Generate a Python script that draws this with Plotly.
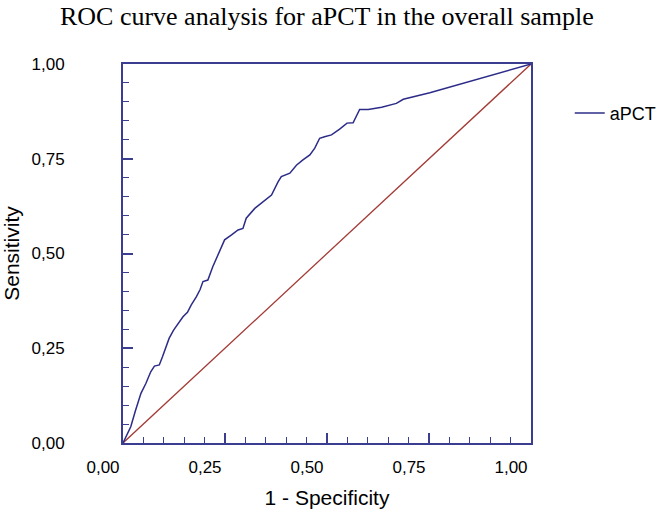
import plotly.graph_objects as go

# ROC curve points for aPCT (1 - specificity, sensitivity)
fpr = [0.000, 0.008, 0.019, 0.031, 0.044, 0.056, 0.068, 0.077, 0.089, 0.097, 0.105,
       0.113, 0.124, 0.135, 0.147, 0.158, 0.167, 0.180, 0.189, 0.196, 0.208, 0.220,
       0.237, 0.249, 0.266, 0.282, 0.294, 0.302, 0.323, 0.339, 0.364, 0.380, 0.388,
       0.409, 0.425, 0.441, 0.458, 0.470, 0.482, 0.494, 0.511, 0.531, 0.549, 0.564,
       0.580, 0.601, 0.634, 0.670, 0.687, 0.752, 1.000]
tpr = [0.000, 0.020, 0.043, 0.087, 0.131, 0.157, 0.188, 0.203, 0.206, 0.228, 0.250,
       0.276, 0.298, 0.315, 0.333, 0.345, 0.364, 0.386, 0.405, 0.426, 0.430, 0.465,
       0.509, 0.536, 0.549, 0.562, 0.566, 0.593, 0.619, 0.632, 0.654, 0.689, 0.703,
       0.712, 0.733, 0.747, 0.760, 0.778, 0.804, 0.808, 0.813, 0.828, 0.844, 0.845,
       0.880, 0.880, 0.886, 0.896, 0.907, 0.924, 1.000]

ref_x = [0, 1]
ref_y = [0, 1]

tick_vals = [0, 0.25, 0.5, 0.75, 1.0]
tick_text = ["0,00", "0,25", "0,50", "0,75", "1,00"]

axis_color = "#3b3d90"

fig = go.Figure()
fig.add_trace(go.Scatter(x=ref_x, y=ref_y, mode="lines", showlegend=False,
                         line=dict(color="#a33a35", width=1.3)))
fig.add_trace(go.Scatter(x=fpr, y=tpr, mode="lines", name="aPCT",
                         line=dict(color="#2c2c88", width=1.5)))

common = dict(range=[0, 1], tickvals=tick_vals, ticktext=tick_text,
              showline=True, mirror=True, linecolor=axis_color, linewidth=2,
              ticks="inside", ticklen=10, tickwidth=1.5, tickcolor=axis_color,
              minor=dict(dtick=0.05, ticks="inside", ticklen=6, tickwidth=1.3,
                         tickcolor=axis_color, showgrid=False),
              showgrid=False, zeroline=False,
              tickfont=dict(family="Liberation Sans, Arial", size=17, color="black"))

fig.update_xaxes(**common, ticklabelshift=-20, ticklabelstandoff=8,
                 title=dict(text="1 - Specificity", standoff=14,
                            font=dict(family="Liberation Sans, Arial", size=21, color="black")))
fig.update_yaxes(**common, ticklabelstandoff=53,
                 title=dict(text="Sensitivity", standoff=19,
                            font=dict(family="Liberation Sans, Arial", size=21, color="black")))

fig.update_layout(
    width=663, height=510,
    margin=dict(l=123, r=132, t=64, b=67, autoexpand=False),
    paper_bgcolor="white", plot_bgcolor="white",
    title=dict(text="ROC curve analysis for aPCT in the overall sample",
               x=0.493, xanchor="center", y=0.968, yanchor="middle",
               font=dict(family="Liberation Serif, Times New Roman", size=26, color="black")),
    legend=dict(x=1.095, y=0.87, xanchor="left", yanchor="middle",
                font=dict(family="Liberation Sans, Arial", size=18, color="black"),
                bgcolor="rgba(0,0,0,0)"),
)

fig.write_html("out.html", config={"displayModeBar": False},
               post_script="document.body.style.margin='0';document.body.style.overflow='hidden';")
